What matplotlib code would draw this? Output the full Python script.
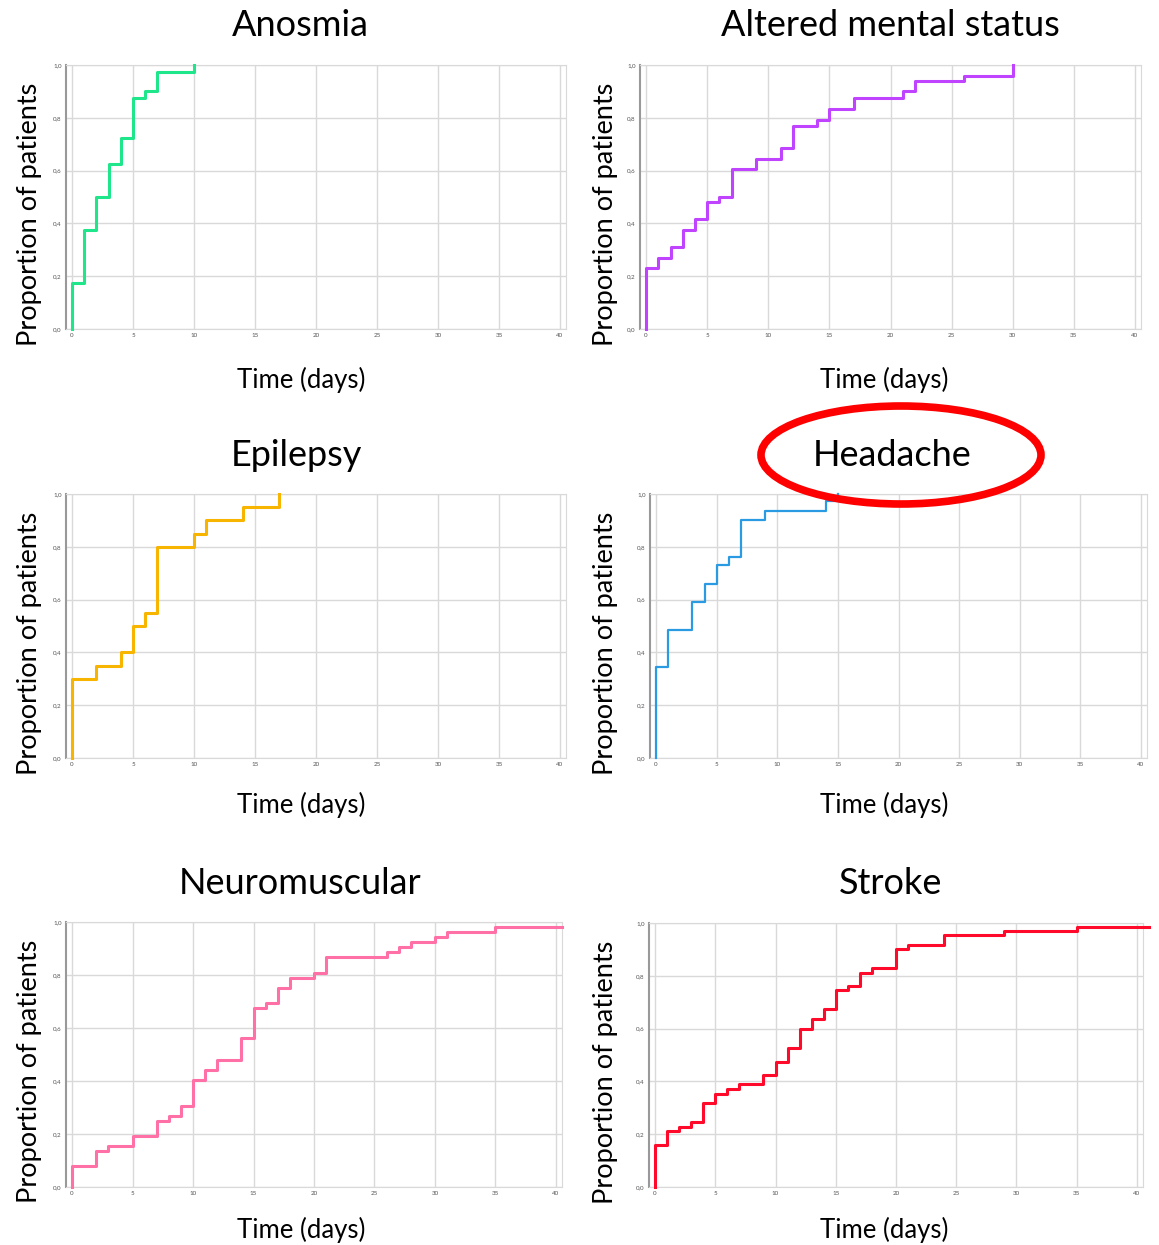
import numpy as np
import matplotlib
matplotlib.use("Agg")
import matplotlib.pyplot as plt
from matplotlib.patches import Ellipse

# cumulative proportion of patients, step after each day
titles = ["Anosmia", "Altered mental status", "Epilepsy", "Headache", "Neuromuscular", "Stroke"]
colors = ["#1fe68a", "#c044ff", "#f7b500", "#2a9be3", "#ff70a6", "#ff0a2a"]

anosmia_t = [0, 1, 2, 3, 4, 5, 6, 7, 10]
anosmia_p = [0.175, 0.375, 0.5, 0.625, 0.725, 0.875, 0.9, 0.975, 1.0]

altered_t = [0, 1, 2, 3, 4, 5, 6, 7, 9, 11, 12, 14, 15, 17, 21, 22, 26, 30]
altered_p = [0.23, 0.27, 0.31, 0.375, 0.415, 0.48, 0.5, 0.605, 0.645, 0.685, 0.77, 0.79,
             0.835, 0.875, 0.9, 0.94, 0.96, 1.0]

epilepsy_t = [0, 2, 4, 5, 6, 7, 10, 11, 14, 17]
epilepsy_p = [0.3, 0.35, 0.4, 0.5, 0.55, 0.8, 0.85, 0.9, 0.95, 1.0]

headache_t = [0, 1, 3, 4, 5, 6, 7, 9, 14, 15]
headache_p = [0.345, 0.485, 0.59, 0.66, 0.73, 0.763, 0.9, 0.934, 0.975, 1.0]

neuro_t = [0, 2, 3, 5, 7, 8, 9, 10, 11, 12, 14, 15, 16, 17, 18, 20, 21, 26, 27, 28, 30, 31, 35, 40.5]
neuro_p = [0.078, 0.136, 0.154, 0.194, 0.249, 0.268, 0.306, 0.403, 0.44, 0.478, 0.562, 0.677,
           0.694, 0.75, 0.79, 0.809, 0.868, 0.887, 0.906, 0.925, 0.943, 0.962, 0.982, 0.982]

stroke_t = [0, 1, 2, 3, 4, 5, 6, 7, 9, 10, 11, 12, 13, 14, 15, 16, 17, 18, 20, 21, 24, 29, 35, 41]
stroke_p = [0.158, 0.212, 0.227, 0.246, 0.318, 0.354, 0.37, 0.389, 0.423, 0.473, 0.528, 0.6,
            0.635, 0.673, 0.745, 0.76, 0.812, 0.83, 0.9, 0.918, 0.953, 0.97, 0.985, 0.985]

series = [(anosmia_t, anosmia_p), (altered_t, altered_p), (epilepsy_t, epilepsy_p),
          (headache_t, headache_p), (neuro_t, neuro_p), (stroke_t, stroke_p)]

x_ticks = [0, 5, 10, 15, 20, 25, 30, 35, 40]
y_ticks = [0.0, 0.2, 0.4, 0.6, 0.8, 1.0]
y_ticklabels = ["0,0", "0,2", "0,4", "0,6", "0,8", "1,0"]

W, H = 1159, 1245
fig = plt.figure(figsize=(W / 100, H / 100), dpi=100)
plt.rcParams['font.family'] = ['Lato', 'DejaVu Sans']

# axes boxes in pixels: left, top, right, bottom
boxes = [(66, 65, 566, 329), (640, 65, 1141, 329),
         (66, 494, 566, 758), (650, 494, 1147, 758),
         (66, 922, 562, 1187), (649, 923, 1143, 1187)]
title_pos = [(300, 25), (890, 25), (296, 456), (892, 455), (300, 883), (891, 883)]
xlab_pos = [(301, 380), (884, 380), (301, 805), (884, 805), (301, 1230), (884, 1230)]
ylab_x = [30, 605]


def fx(px):
    return px / W


def fy(py):
    return 1 - py / H


for i, (t, p) in enumerate(series):
    c = i % 2
    l, top, rr, bot = boxes[i]
    ax = fig.add_axes([fx(l), fy(bot), fx(rr) - fx(l), fy(top) - fy(bot)])
    ax.set_xlim(-0.5, 40.5)
    ax.set_ylim(0, 1.0)
    ax.set_xticks(x_ticks)
    ax.set_yticks(y_ticks)
    ax.set_yticklabels(y_ticklabels)
    ax.tick_params(labelsize=4.5, colors="#555555", length=0, pad=3)
    ax.grid(True, color="#d9d9d9", linewidth=1.0)
    ax.set_axisbelow(True)
    for s in ["top", "right", "bottom"]:
        ax.spines[s].set_color("#d9d9d9")
    ax.spines["left"].set_color("#999999")
    ax.spines["left"].set_linewidth(1.5)

    xs = [0] + list(t)
    ys = [0] + list(p)
    lw = 1.6 if i == 3 else 2.2
    ax.step(xs, ys, where="post", color=colors[i], linewidth=lw, clip_on=False, zorder=3)

    fig.text(fx(title_pos[i][0]), fy(title_pos[i][1]), titles[i], ha="center", va="center", fontsize=26)
    fig.text(fx(xlab_pos[i][0]), fy(xlab_pos[i][1]), "Time (days)", ha="center", va="center", fontsize=18.5)
    fig.text(fx(ylab_x[c]), fy((top + bot) / 2 + 17), "Proportion of patients", ha="center", va="center",
             rotation=90, fontsize=19.5)

# red ellipse highlighting Headache
over = fig.add_axes([0, 0, 1, 1])
over.set_xlim(0, W)
over.set_ylim(H, 0)
over.axis("off")
over.add_patch(Ellipse((901, 455), 280, 98, fill=False, edgecolor="#ff0000", linewidth=5.5))

fig.savefig("out.png", dpi=100, facecolor="white")
